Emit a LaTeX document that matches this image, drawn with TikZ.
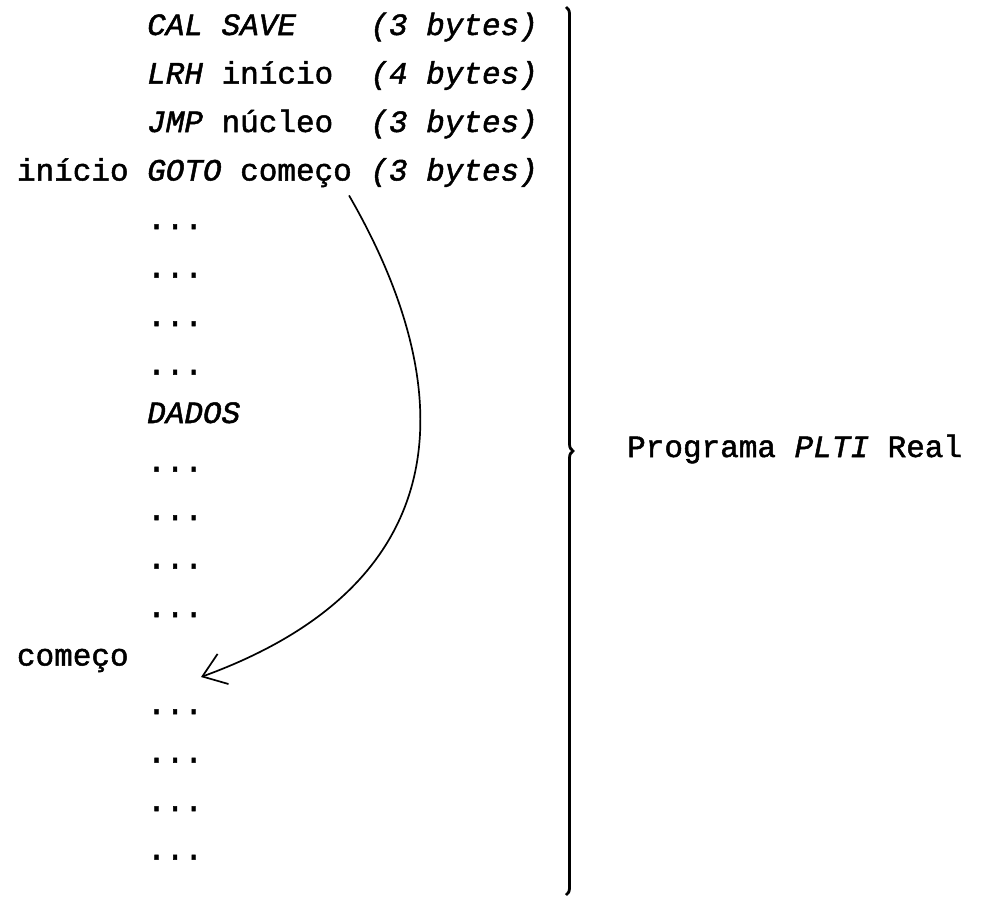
\documentclass[tikz,border=0pt]{standalone}
\usepackage{fontspec}
\setmainfont{Liberation Mono}[RawFeature={embolden=1.6}]
\usetikzlibrary{positioning,decorations.pathreplacing,arrows.meta}

\tikzset{
  txt/.style={anchor=base west,inner sep=0pt,font=\fontsize{31}{31}\selectfont},
  ital/.style={txt,font=\fontsize{31}{31}\selectfont\itshape},
  jump/.style={-{Straight Barb[length=22pt,width=32pt,line width=1.7pt]},line width=1.7pt},
  bracket/.style={decorate,decoration={brace,amplitude=7pt},line width=2.8pt}
}

\begin{document}
\begin{tikzpicture}[x=1pt,y=-1pt]
 \useasboundingbox (0,0) rectangle (989,900);
 % header lines
 \node[ital] (mn1) at (147,35) {CAL};
 \node[ital] (op1) at (221.4,35) {SAVE};
 \node[ital] (by1) at (370.2,35) {(3 bytes)};
 \node[ital] (mn2) at (147,83.5) {LRH};
 \node[txt]  (op2) at (221.4,83.5) {início};
 \node[ital] (by2) at (370.2,83.5) {(4 bytes)};
 \node[ital] (mn3) at (147,132) {JMP};
 \node[txt]  (op3) at (221.4,132) {núcleo};
 \node[ital] (by3) at (370.2,132) {(3 bytes)};
 \node[txt]  (lb4) at (16.8,180.5) {início};
 \node[ital] (mn4) at (147,180.5) {GOTO};
 \node[txt]  (op4) at (240,180.5) {começo};
 \node[ital] (by4) at (370.2,180.5) {(3 bytes)};
 % filler
 \foreach \k in {4,...,7,9,10,11,12,14,15,16,17}
   \node[txt] (d\k) at (147,{35+48.5*\k}) {...};
 \node[ital] (dados) at (147,423) {DADOS};
 \node[txt] (lb13) at (16.8,665.5) {começo};
 \coordinate (tgt) at (201,677);
 % jump
 \draw[jump] ([xshift=-3pt,yshift=-8pt]op4.south east)
   .. controls +(60:220) and +(-20:280) .. (tgt);
 % brace
 \draw[bracket] (566,7) -- (566,895);
 \node[txt] (prog) at (627,457) {Programa \textit{PLTI} Real};
\end{tikzpicture}
\end{document}
